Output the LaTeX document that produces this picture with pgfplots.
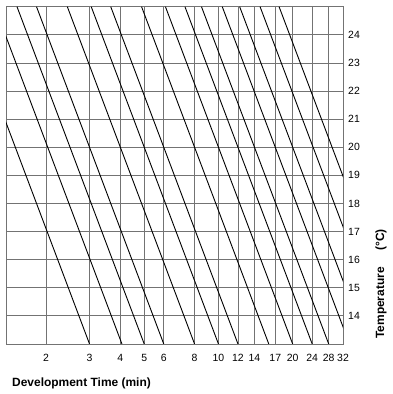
\documentclass[border=0pt]{standalone}
\usepackage{pgfplots}
\pgfplotsset{compat=1.18}
\usepackage{fontspec}
\setmainfont{Liberation Sans}
\pgfplotsset{dline/.style={black, solid, mark=none, line width=0.9bp}}
\begin{document}
\begin{tikzpicture}[x=1bp,y=1bp]
\begin{axis}[
  at={(0,0)}, anchor=south west,
  scale only axis,
  width=337bp, height=337.3bp,
  xmode=log,
  xmin=1.375, xmax=32,
  ymin=13, ymax=25,
  xtick={2,3,4,5,6,8,10,12,14,17,20,24,28,32},
  xticklabels={2,3,4,5,6,8,10,12,14,17,20,24,28,32},
  ytick={14,15,16,17,18,19,20,21,22,23,24},
  yticklabels={14,15,16,17,18,19,20,21,22,23,24},
  yticklabel pos=right,
  minor tick num=0,
  major tick length=0pt,
  xminorticks=false,
  grid=major,
  major grid style={draw=black!55, line width=0.8bp},
  axis line style={draw=black!55, line width=0.8bp},
  tick label style={font=\fontsize{10.5}{12}\selectfont, inner sep=0pt},
  xticklabel style={anchor=north, yshift=-10bp},
  yticklabel style={anchor=west, xshift=5bp},
  /pgf/number format/assume math mode=true,
  clip=true,
]
\addplot[dline] coordinates {(0.9143,25) (3.0,13)};
\addplot[dline] coordinates {(1.2373,25) (4.06,13)};
\addplot[dline] coordinates {(1.5238,25) (5.0,13)};
\addplot[dline] coordinates {(1.8285,25) (6.0,13)};
\addplot[dline] coordinates {(2.4380,25) (8.0,13)};
\addplot[dline] coordinates {(3.0476,25) (10.0,13)};
\addplot[dline] coordinates {(3.6571,25) (12.0,13)};
\addplot[dline] coordinates {(4.8761,25) (16.0,13)};
\addplot[dline] coordinates {(6.0951,25) (20.0,13)};
\addplot[dline] coordinates {(7.3141,25) (24.0,13)};
\addplot[dline] coordinates {(8.5331,25) (28.0,13)};
\addplot[dline] coordinates {(10.3617,25) (34.0,13)};
\addplot[dline] coordinates {(12.1902,25) (40.0,13)};
\addplot[dline] coordinates {(14.7501,25) (48.4,13)};
\addplot[dline] coordinates {(17.6148,25) (57.8,13)};
\end{axis}
\node[anchor=west, inner sep=0pt, font=\bfseries\fontsize{12}{14}\selectfont] at (6bp,-39bp) {Development Time (min)};
\node[rotate=90, inner sep=0pt, font=\bfseries\fontsize{12}{14}\selectfont] at (375bp,60bp) {Temperature\hspace{1.1em} (°C)};
\pgfresetboundingbox
\path (-6bp,-50bp) rectangle (387bp,344bp);
\end{tikzpicture}
\end{document}
